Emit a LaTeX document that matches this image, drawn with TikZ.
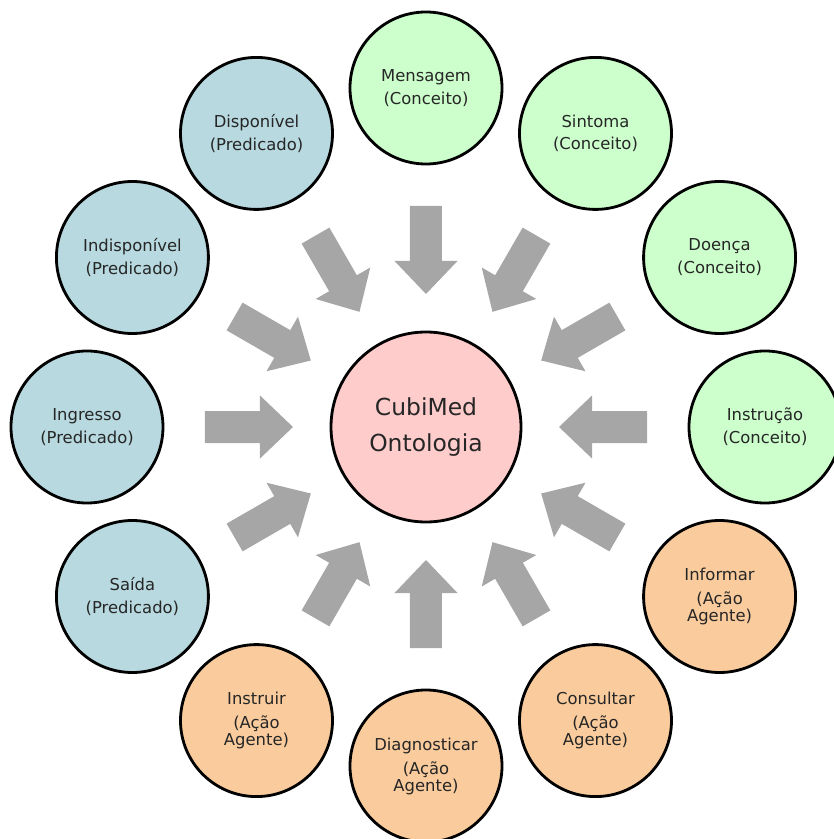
\documentclass[tikz,border=0pt]{standalone}
\usepackage{fontspec}
\setmainfont{DejaVu Sans}
\definecolor{conceito}{RGB}{204,255,204}
\definecolor{predicado}{RGB}{183,217,223}
\definecolor{acao}{RGB}{250,204,157}
\definecolor{ontologia}{RGB}{255,204,204}
\definecolor{seta}{RGB}{166,166,166}

\begin{document}
\begin{tikzpicture}[x=0.03cm,y=0.03cm,
	outer/.style={draw,circle,line width=2.4pt,inner sep=0,outer sep=0,minimum size=4.56cm,align=center,text=black!85,font=\fontsize{14}{14.5}\selectfont},
	conc/.style={outer,fill=conceito},
	pred/.style={outer,fill=predicado},
	agent/.style={outer,fill=acao},
	hub/.style={draw,circle,line width=2.4pt,inner sep=0,outer sep=0,minimum size=5.7cm,fill=ontologia,align=center,text=black!85,font=\fontsize{20}{30}\selectfont},
	inarrow/.style={fill=seta}]
	\useasboundingbox (-426,-412) rectangle (407,427);
	\node[hub] (ont) at (0,0) {CubiMed\\Ontologia};
	\node[conc] (msg) at (90:339) {Mensagem\\[5pt](Conceito)};
	\node[conc] (sint) at (60:339) {Sintoma\\[5pt](Conceito)};
	\node[conc] (doen) at (30:339) {Doença\\[5pt](Conceito)};
	\node[conc] (instr) at (0:339) {Instrução\\[5pt](Conceito)};
	\node[agent] (inf) at (-30:339) {Informar\\[6pt](Ação\\Agente)};
	\node[agent] (cons) at (-60:339) {Consultar\\[6pt](Ação\\Agente)};
	\node[agent] (diag) at (-90:339) {Diagnosticar\\[6pt](Ação\\Agente)};
	\node[agent] (instru) at (-120:339) {Instruir\\[6pt](Ação\\Agente)};
	\node[pred] (said) at (-150:339) {Saída\\[5pt](Predicado)};
	\node[pred] (ingr) at (180:339) {Ingresso\\[5pt](Predicado)};
	\node[pred] (indisp) at (150:339) {Indisponível\\[5pt](Predicado)};
	\node[pred] (disp) at (120:339) {Disponível\\[5pt](Predicado)};
	\foreach \a in {0,30,...,330}
		\fill[inarrow,rotate=\a] (221,16) -- (166,16) -- (166,31.5) -- (133,0) -- (166,-31.5) -- (166,-16) -- (221,-16) -- cycle;
\end{tikzpicture}
\end{document}
